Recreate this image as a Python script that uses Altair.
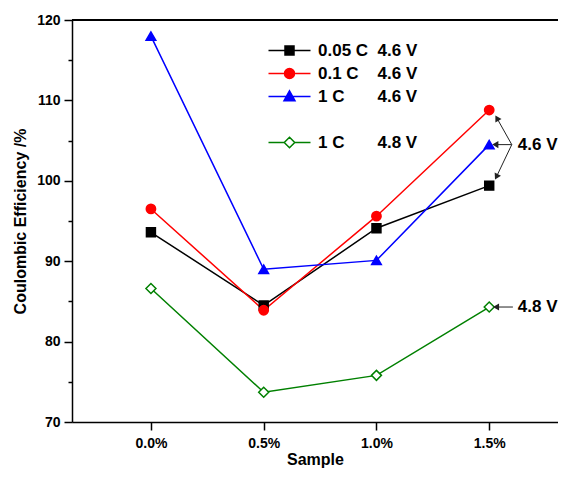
import altair as alt
import pandas as pd

# ---- data ----
samples = [0.0, 0.5, 1.0, 1.5]
series_names = ["0.05 C 4.6 V", "0.1 C 4.6 V", "1 C 4.6 V", "1 C 4.8 V"]
ce_005C_46V = [93.6, 84.5, 94.1, 99.4]
ce_01C_46V = [96.5, 83.9, 95.6, 108.8]
ce_1C_46V = [118.0, 89.0, 90.1, 104.5]
ce_1C_48V = [86.6, 73.7, 75.8, 84.3]
all_values = [ce_005C_46V, ce_01C_46V, ce_1C_46V, ce_1C_48V]

line_colors = ["#000000", "#ff0000", "#0000ff", "#008000"]
fill_colors = ["#000000", "#ff0000", "#0000ff", "#ffffff"]
point_shapes = ["square", "circle", "triangle-up", "diamond"]
point_sizes = [80, 100, 120, 100]

# legend (blank spacer row before the 4.8 V entry)
NB = "\u00a0"
legend_domain = ["0.05 C 4.6 V", "0.1 C 4.6 V", "1 C 4.6 V", "spacer", "1 C 4.8 V"]
legend_labels = ["0.05 C" + NB * 2 + "4.6 V", "0.1 C" + NB * 4 + "4.6 V",
                 "1 C" + NB * 7 + "4.6 V", NB, "1 C" + NB * 7 + "4.8 V"]
legend_strokes = ["#000000", "#ff0000", "#0000ff", "transparent", "#008000"]
legend_fills = ["#000000", "#ff0000", "#0000ff", "transparent", "#ffffff"]
legend_paths = [
    "M-4.2,0H4.2M-0.9,-0.9H0.9V0.9H-0.9Z",
    "M-4.2,0H4.2M1,0A1,1,0,1,1,-1,0A1,1,0,1,1,1,0Z",
    "M-4.2,0H4.2M0,-1.15L1.1,0.85L-1.1,0.85Z",
    "M0,0",
    "M-4.2,0H-1.05M1.05,0H4.2M0,-1.05L1.05,0L0,1.05L-1.05,0Z",
]

# annotations (arrows pointing at the 1.5 % points)
ann_text = ["4.6 V", "4.8 V"]
ann_text_x = [1.627, 1.627]
ann_text_y = [104.5, 84.3]
arrow_x0 = [1.600, 1.600, 1.600, 1.605]
arrow_y0 = [104.5, 104.5, 104.5, 84.3]
arrow_x1 = [1.534, 1.527, 1.532, 1.530]
arrow_y1 = [107.8, 104.5, 100.5, 84.3]
arrow_angle = [330, 270, 207, 270]

rows = []
for name, vals in zip(series_names, all_values):
    for s, v in zip(samples, vals):
        rows.append({"sample": s, "ce": v, "series": name})
df = pd.DataFrame(rows)

ann_df = pd.DataFrame({"x": ann_text_x, "y": ann_text_y, "t": ann_text})
arr_df = pd.DataFrame({"x0": arrow_x0, "y0": arrow_y0, "x1": arrow_x1,
                       "y1": arrow_y1, "ang": arrow_angle})

FONT = "Liberation Sans"

x_scale = alt.Scale(domain=[-0.35, 1.805], nice=False, zero=False)
y_scale = alt.Scale(domain=[70, 120], nice=False, zero=False)

x_enc = alt.X(
    "sample:Q", scale=x_scale,
    axis=alt.Axis(
        values=samples, labelExpr="format(datum.value, '.1f') + '%'",
        title="Sample", grid=False, tickSize=8, tickWidth=1.5, tickColor="#000",
        domainColor="#000", domainWidth=1.5, labelFont=FONT, labelFontSize=14,
        labelFontWeight="bold", labelColor="#000", labelPadding=6,
        titleFont=FONT, titleFontSize=16, titleFontWeight="bold",
        titleColor="#000", titlePadding=1,
    ),
)
y_enc = alt.Y(
    "ce:Q", scale=y_scale,
    axis=alt.Axis(
        values=list(range(70, 121, 5)),
        labelExpr="datum.value % 10 === 0 ? datum.label : ''",
        title="Coulombic Efficiency /%", grid=False,
        tickSize={"condition": {"test": "datum.value % 10 === 0", "value": 8}, "value": 4},
        tickWidth=1.5, tickColor="#000", domainColor="#000", domainWidth=1.5,
        labelFont=FONT, labelFontSize=14, labelFontWeight="bold", labelColor="#000",
        labelPadding=4, titleFont=FONT, titleFontSize=16, titleFontWeight="bold",
        titleColor="#000", titlePadding=8,
    ),
)

base = alt.Chart(df).encode(x=x_enc, y=y_enc)

lines = base.mark_line(strokeWidth=1.5).encode(
    color=alt.Color("series:N", scale=alt.Scale(domain=series_names, range=line_colors), legend=None)
)

points = base.mark_point(filled=True, opacity=1, strokeWidth=1.5).encode(
    stroke=alt.Stroke("series:N", scale=alt.Scale(domain=series_names, range=line_colors), legend=None),
    fill=alt.Fill("series:N", scale=alt.Scale(domain=series_names, range=fill_colors), legend=None),
    shape=alt.Shape("series:N", scale=alt.Scale(domain=series_names, range=point_shapes), legend=None),
    size=alt.Size("series:N", scale=alt.Scale(domain=series_names, range=point_sizes), legend=None),
)

label_expr = "".join(
    f"datum.label === '{d}' ? '{l}' : " for d, l in zip(legend_domain, legend_labels)
) + "''"

leg = alt.Legend(
    orient="none", legendX=209, legendY=22, title=None, padding=0,
    labelFont=FONT, labelFontSize=17, labelFontWeight="bold", labelColor="#000",
    labelOffset=20, labelLimit=400, rowPadding=5, symbolSize=100,
    symbolStrokeWidth=1.5, labelExpr=label_expr,
)

legend_layer = base.mark_point(filled=True, opacity=1).encode(
    stroke=alt.Stroke("series:N", scale=alt.Scale(domain=legend_domain, range=legend_strokes), legend=leg),
    fill=alt.Fill("series:N", scale=alt.Scale(domain=legend_domain, range=legend_fills), legend=leg),
    shape=alt.Shape("series:N", scale=alt.Scale(domain=legend_domain, range=legend_paths), legend=leg),
).transform_filter("false")

top_line = alt.Chart(df).mark_rule(color="#000", strokeWidth=1.5).encode(y=alt.datum(120))

arrows = alt.Chart(arr_df).mark_rule(color="#222", strokeWidth=1).encode(
    x=alt.X("x0:Q", scale=x_scale), y=alt.Y("y0:Q", scale=y_scale),
    x2="x1:Q", y2="y1:Q",
)
heads = alt.Chart(arr_df).mark_point(shape="triangle-up", filled=True, opacity=1,
                                     color="#222", size=50).encode(
    x=alt.X("x1:Q", scale=x_scale), y=alt.Y("y1:Q", scale=y_scale),
    angle=alt.Angle("ang:Q", scale=None),
)
texts = alt.Chart(ann_df).mark_text(align="left", baseline="middle", font=FONT,
                                    fontSize=17, fontWeight="bold", color="#000").encode(
    x=alt.X("x:Q", scale=x_scale), y=alt.Y("y:Q", scale=y_scale), text="t:N",
)

chart = alt.layer(top_line, lines, points, legend_layer, arrows, heads, texts).resolve_scale(
    stroke="independent", fill="independent", shape="independent"
).properties(
    width=486, height=402,
    padding={"left": 64, "top": 12, "right": 0, "bottom": 46},
    autosize=alt.AutoSizeParams(type="none"),
    background="white",
).configure_view(strokeWidth=0).configure(font=FONT)

chart.save("out.html", embed_options={"renderer": "svg", "actions": False})
